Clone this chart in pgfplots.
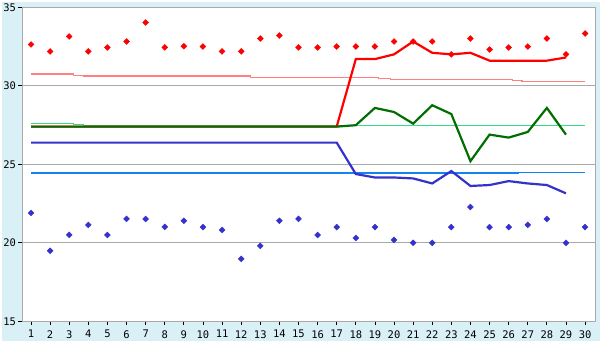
\documentclass[border=0pt]{standalone}
\usepackage{pgfplots}
\pgfplotsset{compat=1.18}
\usepackage{pgfplotstable}
\usepackage{fontspec}
\setmainfont{DejaVu Sans Mono}
\definecolor{bgblue}{RGB}{218,240,247}
\definecolor{gridgray}{RGB}{170,170,170}
\definecolor{lred}{RGB}{255,0,0}
\definecolor{lgreen}{RGB}{0,110,0}
\definecolor{lblue}{RGB}{51,51,204}
\definecolor{tred}{RGB}{255,128,128}
\definecolor{tgreen}{RGB}{51,221,136}
\definecolor{tblue}{RGB}{20,130,240}

\pgfplotstableread{
x red blue
1 32.63 21.90
2 32.19 19.49
3 33.14 20.50
4 32.19 21.14
5 32.44 20.50
6 32.82 21.52
7 34.03 21.52
8 32.44 21.01
9 32.52 21.40
10 32.50 21.00
11 32.19 20.82
12 32.19 18.98
13 33.01 19.81
14 33.20 21.40
15 32.44 21.52
16 32.44 20.50
17 32.50 21.00
18 32.50 20.31
19 32.50 21.00
20 32.82 20.19
21 32.82 20.00
22 32.82 20.00
23 32.00 21.00
24 33.01 22.28
25 32.31 21.00
26 32.44 21.00
27 32.50 21.14
28 33.01 21.52
29 32.00 20.00
30 33.33 21.00
}\points

\pgfplotstableread{
x red green blue
1 27.40 27.40 26.38
2 27.40 27.40 26.38
3 27.40 27.40 26.38
4 27.40 27.40 26.38
5 27.40 27.40 26.38
6 27.40 27.40 26.38
7 27.40 27.40 26.38
8 27.40 27.40 26.38
9 27.40 27.40 26.38
10 27.40 27.40 26.38
11 27.40 27.40 26.38
12 27.40 27.40 26.38
13 27.40 27.40 26.38
14 27.40 27.40 26.38
15 27.40 27.40 26.38
16 27.40 27.40 26.38
17 27.40 27.40 26.38
18 31.70 27.49 24.38
19 31.70 28.59 24.16
20 32.00 28.33 24.16
21 32.82 27.59 24.10
22 32.10 28.76 23.78
23 32.00 28.20 24.57
24 32.10 25.20 23.62
25 31.60 26.89 23.68
26 31.60 26.70 23.93
27 31.60 27.06 23.78
28 31.60 28.59 23.68
29 31.80 26.89 23.15
}\lines

\begin{document}
\begin{tikzpicture}[x=1bp,y=1bp]
\fill[bgblue] (0,0) rectangle (600,340);
\begin{axis}[
  at={(20.7bp,20bp)}, anchor=south west,
  scale only axis, width=574.3bp, height=315bp,
  xmin=0.55, xmax=30.52, ymin=15, ymax=35,
  xtick={1,...,30}, ytick={15,20,25,30,35},
  xtick pos=left, ytick pos=left,
  tick align=outside, major tick length=4bp,
  tick style={black, line width=0.8bp},
  ymajorgrids, grid style={gridgray, line width=1bp},
  axis line style={gridgray, line width=1bp},
  axis background/.style={fill=white},
  /pgf/number format/assume math mode=true,
  ticklabel style={font=\fontsize{10.5bp}{12bp}\selectfont},
  xticklabel style={yshift=-1.5bp},
  yticklabel style={xshift=1bp},
  clip=false,
]
\addplot[tred, line width=1.2bp, const plot] coordinates {(1,30.75)(3.23,30.68)(3.75,30.62)(12.5,30.54)(19.2,30.47)(19.8,30.41)(26.2,30.34)(26.7,30.28)(30,30.28)};
\addplot[tgreen, line width=1.2bp, const plot] coordinates {(1,27.61)(3.23,27.55)(3.75,27.49)(30,27.49)};
\addplot[tblue, line width=1.2bp, const plot] coordinates {(1,24.44)(26.5,24.50)(30,24.50)};
\addplot[lred, line width=2.2bp, no markers] table[x=x, y=red] {\lines};
\addplot[lgreen, line width=2.2bp, no markers] table[x=x, y=green] {\lines};
\addplot[lblue, line width=2.2bp, no markers] table[x=x, y=blue] {\lines};
\addplot[only marks, mark=square*, mark size=2.1bp, mark options={rotate=45, fill=lred, draw=lred}] table[x=x, y=red] {\points};
\addplot[only marks, mark=square*, mark size=2.1bp, mark options={rotate=45, fill=lblue, draw=lblue}] table[x=x, y=blue] {\points};
\end{axis}
\end{tikzpicture}
\end{document}
